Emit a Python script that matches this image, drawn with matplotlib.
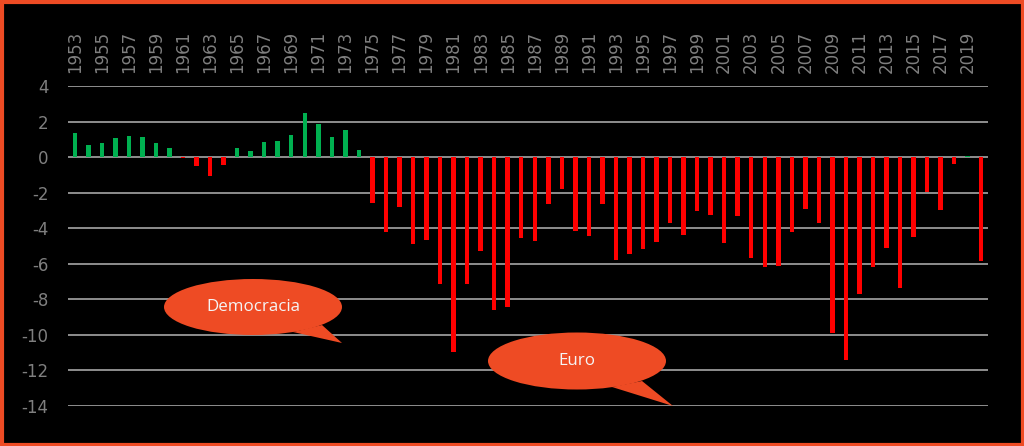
import matplotlib.pyplot as plt
import matplotlib.patches as patches

plt.rcParams['axes.unicode_minus'] = False

years = list(range(1953, 2021))
values = [1.37, 0.69, 0.77, 1.07, 1.18, 1.11, 0.81, 0.51, -0.05, -0.51,
          -1.07, -0.47, 0.49, 0.36, 0.85, 0.88, 1.24, 2.46, 1.86, 1.13,
          1.52, 0.41, -2.59, -4.21, -2.78, -4.88, -4.66, -7.13, -10.95, -7.13,
          -5.29, -8.60, -8.41, -4.54, -4.73, -2.63, -1.80, -4.17, -4.43, -2.66,
          -5.76, -5.43, -5.18, -4.75, -3.72, -4.39, -3.04, -3.23, -4.81, -3.34,
          -5.67, -6.18, -6.14, -4.21, -2.93, -3.72, -9.88, -11.42, -7.68, -6.18,
          -5.13, -7.36, -4.47, -1.95, -2.98, -0.38, 0.08, -5.86]
tick_years = list(range(1953, 2021, 2))
yticks = list(range(-14, 5, 2))

# speech bubbles: text, ellipse centre/size and tail (pixel coords)
bubbles = [
    ("Democracia", (253, 307), 178, 56, [(293, 332), (322, 325), (342, 343)]),
    ("Euro", (577, 361), 178, 57, [(612, 387), (642, 381), (673, 406)]),
]

orange = '#EE4B24'
grey = '#7F7F7F'

fig = plt.figure(figsize=(10.24, 4.46), dpi=100, facecolor='black')
ax = fig.add_axes([68 / 1024, 1 - 406 / 446, 920 / 1024, 320 / 446])
ax.set_facecolor('black')

colors = ['#00B050' if v >= 0 else '#FF0000' for v in values]
ax.bar(years, values, width=0.33, color=colors, zorder=3)

ax.set_xlim(years[0] - 0.5, years[-1] + 0.5)
ax.set_ylim(-14, 4)
ax.set_yticks(yticks)
ax.set_yticklabels([str(t) for t in yticks])
ax.set_xticks(tick_years)
ax.set_xticklabels([str(t) for t in tick_years])
ax.xaxis.tick_top()
ax.tick_params(axis='x', length=0, pad=9.5, labelrotation=90, labelsize=12, labelcolor=grey)
ax.tick_params(axis='y', length=0, pad=14, labelsize=12, labelcolor=grey)
ax.grid(axis='y', color='#A6A6A6', linewidth=1.2, zorder=1)
for s in ax.spines.values():
    s.set_visible(False)

# overlay in pixel coordinates for the bubbles and the frame
ov = fig.add_axes([0, 0, 1, 1], facecolor='none')
ov.set_xlim(0, 1024)
ov.set_ylim(446, 0)
ov.axis('off')
for text, (cx, cy), w, h, tail in bubbles:
    ov.add_patch(patches.Ellipse((cx, cy), w, h, facecolor=orange, edgecolor='none'))
    ov.add_patch(patches.Polygon(tail, closed=True, facecolor=orange, edgecolor='none'))
    ov.text(cx, cy, text, color='#F5F5F5', fontsize=12.2, family='Open Sans',
            ha='center', va='center')
ov.add_patch(patches.Rectangle((1.5, 1.5), 1021, 443, fill=False, edgecolor=orange, linewidth=3))

plt.savefig('out.png', dpi=100, facecolor='black')
